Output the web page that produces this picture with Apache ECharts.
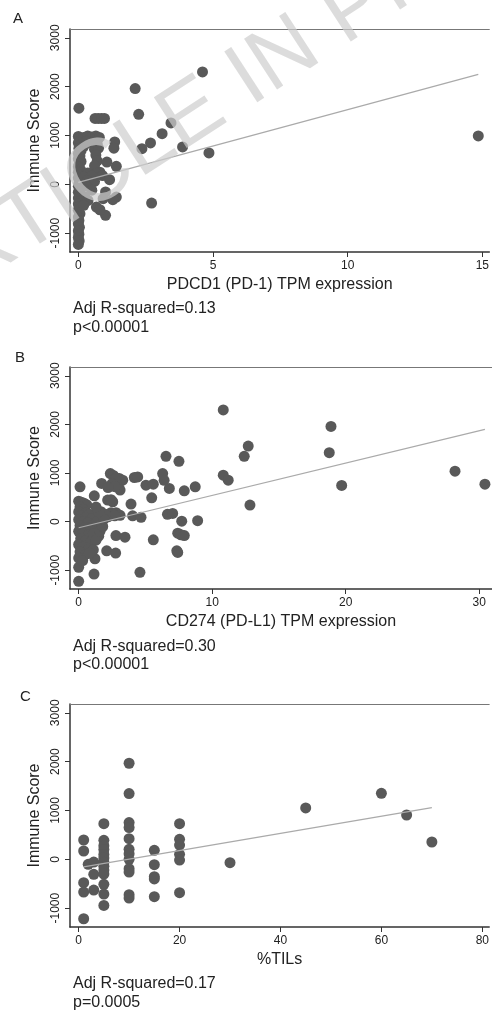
<!DOCTYPE html>
<html>
<head>
<meta charset="utf-8">
<script src="https://cdn.jsdelivr.net/npm/echarts@6/dist/echarts.min.js"></script>
<style>
html, body { margin: 0; padding: 0; background: #fff; }
#chart { width: 492px; height: 1012px; }
</style>
</head>
<body>
<div id="chart"></div>
<script>
// ---- data ----
var yTicks = [-1000, 0, 1000, 2000, 3000];

// A: PDCD1 (PD-1)
var aXTicks = [0, 5, 10, 15];
var aX = [0.02,
  0.0, 0.05, 0.1, 0.0, 0.08, 0.02, 0.1, 0.0, 0.06, 0.0, 0.1, 0.03, 0.0, 0.08, 0.0, 0.05, 0.0, 0.1, 0.02,
  0.0, 0.07, 0.0, 0.04, 0.0, 0.08, 0.0, 0.03, 0.0, 0.06, 0.0, 0.02, 0.0, 0.04, 0.0, 0.02, 0.0, 0.03, 0.0,
  0.2, 0.35, 0.5, 0.65, 0.78, 0.3, 0.5, 0.7, 0.2, 0.6, 0.75, 0.65, 0.7, 0.6, 0.8, 0.67, 0.35, 0.2, 0.5, 0.9,
  0.35, 0.6, 0.3, 0.5, 0.24, 0.36, 0.2, 0.67,
  0.62, 0.74, 0.86, 0.97,
  1.35, 1.32, 1.06, 1.41, 1.16, 1.01, 1.41, 1.28, 0.92, 1.01, 0.8,
  2.11, 4.61, 2.24, 3.44, 3.11, 2.68, 2.36, 3.87, 4.85, 2.72, 14.85];
var aY = [1560,
  980, 940, 900, 850, 800, 740, 690, 630, 580, 520, 470, 420, 360, 300, 250, 190, 130, 80, 20,
  -40, -100, -160, -220, -280, -340, -400, -460, -530, -600, -670, -740, -810, -880, -950, -1020, -1090, -1160, -1230,
  960, 990, 970, 990, 960, 880, 850, 830, 780, 720, 740, 600, 480, 380, 250, 220, 230, 150, 170, 180,
  80, 60, -40, -120, -260, -330, -430, -465,
  1350, 1350, 1350, 1350,
  867, 740, 457, 369, 96, -157, -260, -314, -293, -635, -520,
  1961, 2302, 1434, 1257, 1038, 847, 731, 765, 642, -383, 990];
var aFitX = [0, 14.85];
var aFitY = [40, 2250];

// B: CD274 (PD-L1)
var bXTicks = [0, 10, 20, 30];
var bX = [10.83, 18.9, 18.77, 19.7, 28.19, 30.43, 12.7, 12.4, 10.83, 11.2, 12.83,
  6.54, 7.51, 6.29, 6.4, 6.79, 7.91, 8.73, 5.04, 5.59, 5.47, 4.17, 4.42, 3.92, 4.04, 4.67, 6.65, 7.04, 7.72, 8.91,
  5.59, 7.42, 7.66, 7.91, 7.42, 7.35, 4.59,
  2.37, 2.6, 3.04, 3.3, 2.8, 2.5, 3.0, 3.1, 2.7, 1.72, 2.2, 2.17, 2.55, 2.42, 1.17, 1.67, 2.42, 2.8, 3.1, 2.2,
  2.7, 2.0, 2.79, 3.47, 2.1, 2.77, 1.22, 1.15, 0.0, 0.0, 0.1,
  0.0, 0.2, 0.4, 0.6, 0.1, 0.35, 0.0, 0.55, 0.8, 0.2, 0.45, 1.0, 0.0, 0.3, 0.7, 1.2, 0.1, 0.5, 0.9, 1.4,
  0.0, 0.3, 0.7, 1.1, 1.5, 0.15, 0.5, 0.9, 1.3, 0.0, 0.35, 0.75, 1.1, 0.1, 0.5, 0.0, 0.3, 0.8, 1.4, 1.6,
  1.8, 1.9, 1.5, 1.3];
var bY = [2298, 1957, 1419, 744, 1037, 771, 1554, 1343, 955, 853, 341,
  1343, 1241, 989, 850, 683, 634, 716, 750, 771, 491, 908, 920, 362, 120, 90, 150, 170, 10, 20,
  -374, -237, -272, -286, -634, -600, -1043,
  989, 950, 887, 853, 900, 780, 700, 650, 720, 785, 700, 444, 409, 450, 532, 204, 184, 184, 130, 100,
  120, 150, -286, -320, -600, -647, -763, -1077, -1227, -940, 716,
  420, 400, 380, 350, 300, 250, 200, 180, 150, 120, 80, 60, 40, 0, -20, -50, -80, -120, -150, -100,
  -200, -250, -280, -250, -300, -350, -400, -420, -380, -470, -520, -560, -580, -620, -680, -750, -800, -650, 10, -200,
  -100, 50, 200, 300];
var bFitX = [0, 30.43];
var bFitY = [-125, 1896];

// C: %TILs
var cXTicks = [0, 20, 40, 60, 80];
var cX = [1, 1, 1, 1, 1, 1.9, 3, 3, 3,
  5, 5, 5, 5, 5, 5, 5, 5, 5, 5, 5, 5, 5,
  10, 10, 10, 10, 10, 10, 10, 10, 10, 10, 10, 10,
  15, 15, 15, 15, 15, 20, 20, 20, 20, 20, 20,
  30, 45, 60, 65, 70];
var cY = [396, 171, -478, -669, -1216, -102, -55, -307, -629,
  731, 390, 280, 200, 100, 30, -60, -140, -220, -300, -512, -710, -943,
  1967, 1346, 752, 650, 424, 205, 117, 0, -191, -260, -724, -792,
  184, -109, -355, -400, -765, 731, 410, 293, 102, -14, -683,
  -68, 1052, 1352, 908, 355];
var cFitX = [1, 70];
var cFitY = [-155, 1060];

var FONT = '"Liberation Sans", Arial, Helvetica, sans-serif';

function pairs(xs, ys) {
  return xs.map(function (x, i) { return [x, ys[i]]; });
}
function plain(v) { return String(v); }

var panels = [
  { top: 29, height: 223, range: [-0.31, 15.26], ticks: aXTicks, name: 'PDCD1 (PD-1) TPM expression',
    pts: pairs(aX, aY), fit: pairs(aFitX, aFitY) },
  { top: 367, height: 222, range: [-0.65, 30.96], ticks: bXTicks, name: 'CD274 (PD-L1) TPM expression',
    pts: pairs(bX, bY), fit: pairs(bFitX, bFitY) },
  { top: 704, height: 223, range: [-1.71, 81.36], ticks: cXTicks, name: '%TILs',
    pts: pairs(cX, cY), fit: pairs(cFitX, cFitY) }
];

var grid = [], xAxis = [], yAxis = [], series = [];
panels.forEach(function (p, i) {
  grid.push({ left: 70, right: 0, top: p.top, height: p.height });
  xAxis.push({
    type: 'value', gridIndex: i, position: 'bottom', min: p.range[0], max: p.range[1],
    name: p.name, nameLocation: 'middle', nameGap: 25,
    nameTextStyle: { fontFamily: FONT, fontSize: 16, color: '#222' },
    axisLine: { show: true, onZero: false, lineStyle: { color: '#333', width: 1.5 } },
    axisTick: { show: true, length: 5, customValues: p.ticks, lineStyle: { color: '#333', width: 1 } },
    axisLabel: { customValues: p.ticks, formatter: plain, margin: 8, fontFamily: FONT, fontSize: 12, color: '#222' },
    splitLine: { show: false }
  });
  // top frame line
  xAxis.push({
    type: 'value', gridIndex: i, position: 'top', min: p.range[0], max: p.range[1],
    axisLine: { show: true, onZero: false, lineStyle: { color: '#777', width: 1 } },
    axisTick: { show: false }, axisLabel: { show: false }, splitLine: { show: false }
  });
  yAxis.push({
    type: 'value', gridIndex: i, min: -1385, max: 3180,
    name: 'Immune Score', nameLocation: 'middle', nameGap: 20, nameRotate: 90,
    nameTextStyle: { fontFamily: FONT, fontSize: 16, color: '#222' },
    axisLine: { show: true, onZero: false, lineStyle: { color: '#333', width: 1.5 } },
    axisTick: { show: true, length: 5, customValues: yTicks, lineStyle: { color: '#333', width: 1 } },
    axisLabel: { customValues: yTicks, formatter: plain, rotate: 90, margin: 8, fontFamily: FONT, fontSize: 12, color: '#222' },
    splitLine: { show: false }
  });
  series.push({
    type: 'scatter', xAxisIndex: i * 2, yAxisIndex: i, data: p.pts,
    symbol: 'circle', symbolSize: 11, itemStyle: { color: '#595959', opacity: 1 }, z: 2
  });
  series.push({
    type: 'line', xAxisIndex: i * 2, yAxisIndex: i, data: p.fit, symbol: 'none',
    lineStyle: { color: '#aaaaaa', width: 1.2 }, z: 3
  });
});

function txt(x, y, s, size) {
  return { type: 'text', x: x, y: y, silent: true,
    style: { text: s, fontFamily: FONT, fontSize: size, fill: '#222', verticalAlign: 'middle' } };
}

var graphic = [
  txt(13, 19, 'A', 15), txt(15, 358, 'B', 15), txt(20, 697, 'C', 15),
  txt(73, 309, 'Adj R-squared=0.13', 16), txt(73, 328, 'p<0.00001', 16),
  txt(73, 647, 'Adj R-squared=0.30', 16), txt(73, 665, 'p<0.00001', 16),
  txt(73, 984, 'Adj R-squared=0.17', 16), txt(73, 1003, 'p=0.0005', 16),
  { type: 'text', x: 244, y: 82, rotation: 33 * Math.PI / 180, z: 100, silent: true,
    style: { text: 'ARTICLE IN PRESS', fontFamily: FONT, fontSize: 88,
      fill: 'rgba(205,205,205,0.7)', align: 'center', verticalAlign: 'middle' } }
];

var chart = echarts.init(document.getElementById('chart'), null, { renderer: 'canvas' });
chart.setOption({
  animation: false,
  backgroundColor: '#fff',
  grid: grid,
  xAxis: xAxis,
  yAxis: yAxis,
  series: series,
  graphic: graphic
});
</script>
</body>
</html>
